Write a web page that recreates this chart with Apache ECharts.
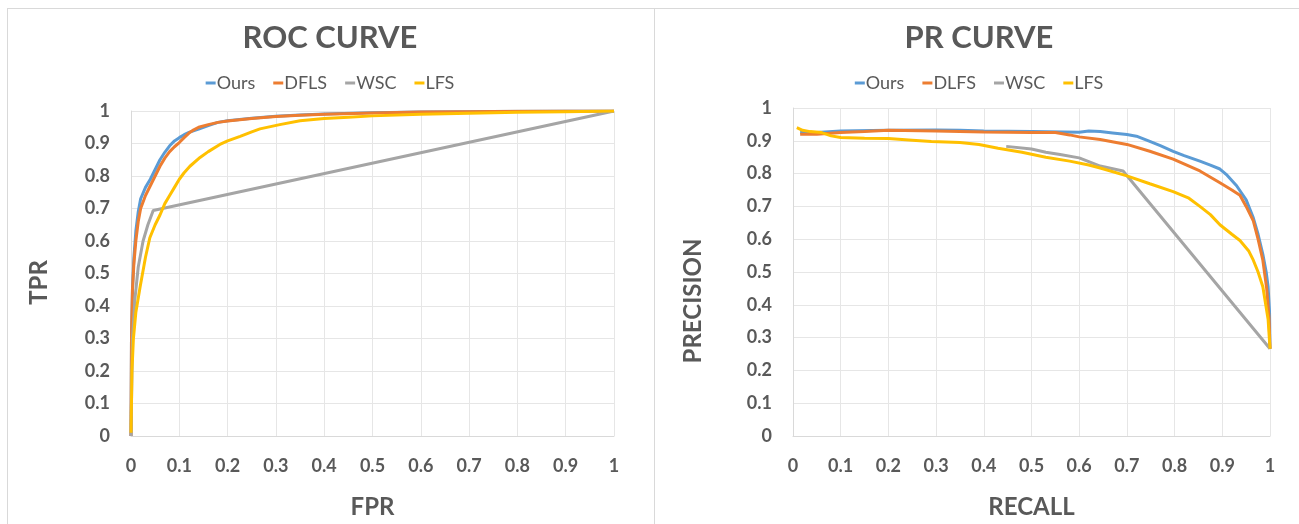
<!DOCTYPE html>
<html>
<head>
<meta charset="utf-8">
<script src="https://cdn.jsdelivr.net/npm/echarts@6/dist/echarts.min.js"></script>
<style>
  html,body{margin:0;padding:0;background:#fff;}
  #wrap{position:relative;width:1299px;height:524px;overflow:hidden;background:#fff;}
  .ln{position:absolute;background:#d9d9d9;}
  .ch{position:absolute;top:0;height:524px;}
</style>
</head>
<body>
<div id="wrap">
  <div class="ln" style="left:7px;top:8px;width:1292px;height:1px;"></div>
  <div class="ln" style="left:7px;top:8px;width:1px;height:516px;"></div>
  <div class="ln" style="left:654px;top:8px;width:1px;height:516px;"></div>
  <div id="roc" class="ch" style="left:0;width:660px;"></div>
  <div id="pr" class="ch" style="left:654px;width:650px;"></div>
</div>
<script>
// ---------- data ----------
const seriesNames = ['Ours', 'DFLS', 'WSC', 'LFS'];
const prSeriesNames = ['Ours', 'DLFS', 'WSC', 'LFS'];
const tickLabels = ['0','0.1','0.2','0.3','0.4','0.5','0.6','0.7','0.8','0.9','1'];

const rocOurs = [[0,0.0],[0.001,0.3],[0.003,0.45],[0.006,0.55],[0.01,0.63],[0.015,0.69],[0.02,0.73],[0.03,0.765],[0.04,0.79],[0.05,0.82],[0.06,0.85],[0.07,0.873],[0.08,0.893],[0.09,0.908],[0.1,0.918],[0.11,0.927],[0.12,0.934],[0.14,0.944],[0.16,0.955],[0.18,0.965],[0.2,0.97],[0.25,0.978],[0.3,0.984],[0.35,0.988],[0.4,0.991],[0.5,0.995],[0.6,0.997],[0.7,0.998],[0.8,0.999],[0.9,1],[1,1]];
const rocDFLS = [[0,0.0],[0.001,0.3],[0.003,0.45],[0.006,0.53],[0.01,0.6],[0.015,0.66],[0.02,0.7],[0.03,0.74],[0.04,0.77],[0.05,0.8],[0.06,0.83],[0.07,0.855],[0.08,0.875],[0.09,0.89],[0.1,0.903],[0.11,0.918],[0.12,0.932],[0.13,0.942],[0.14,0.95],[0.16,0.958],[0.18,0.965],[0.2,0.969],[0.25,0.977],[0.3,0.983],[0.35,0.987],[0.4,0.99],[0.5,0.994],[0.6,0.997],[0.7,0.998],[0.8,0.999],[0.9,1],[1,1]];
const rocWSC = [[0,0.0],[0.003,0.3],[0.008,0.42],[0.015,0.52],[0.025,0.6],[0.035,0.65],[0.046,0.694],[1,1]];
const rocLFS = [[0,0.01],[0.002,0.2],[0.005,0.3],[0.01,0.38],[0.019,0.46],[0.03,0.55],[0.039,0.61],[0.05,0.65],[0.06,0.68],[0.07,0.715],[0.08,0.74],[0.09,0.765],[0.1,0.79],[0.11,0.81],[0.122,0.83],[0.143,0.857],[0.16,0.875],[0.184,0.897],[0.2,0.908],[0.226,0.922],[0.25,0.936],[0.267,0.945],[0.308,0.958],[0.35,0.97],[0.4,0.977],[0.45,0.981],[0.5,0.985],[0.6,0.99],[0.7,0.993],[0.8,0.996],[0.9,0.998],[1,1]];

const prOurs = [[0.015,0.925],[0.05,0.925],[0.1,0.93],[0.2,0.932],[0.3,0.933],[0.35,0.932],[0.4,0.93],[0.5,0.928],[0.6,0.926],[0.62,0.93],[0.644,0.928],[0.67,0.924],[0.7,0.919],[0.72,0.914],[0.748,0.898],[0.77,0.885],[0.797,0.868],[0.82,0.855],[0.853,0.838],[0.875,0.826],[0.895,0.814],[0.91,0.795],[0.93,0.763],[0.95,0.72],[0.965,0.665],[0.975,0.615],[0.985,0.554],[0.992,0.5],[0.996,0.455],[0.999,0.38],[1,0.266]];
const prDLFS = [[0.015,0.92],[0.05,0.92],[0.1,0.925],[0.15,0.928],[0.2,0.932],[0.3,0.93],[0.4,0.927],[0.5,0.925],[0.55,0.925],[0.58,0.918],[0.6,0.912],[0.644,0.904],[0.7,0.889],[0.748,0.868],[0.797,0.844],[0.853,0.808],[0.895,0.772],[0.92,0.75],[0.937,0.734],[0.95,0.7],[0.965,0.656],[0.975,0.6],[0.985,0.536],[0.993,0.45],[0.998,0.36],[1,0.266]];
const prWSC = [[0.447,0.883],[0.5,0.875],[0.53,0.865],[0.56,0.858],[0.6,0.848],[0.644,0.823],[0.692,0.808],[1,0.266]];
const prLFS = [[0.008,0.94],[0.02,0.932],[0.036,0.928],[0.06,0.925],[0.08,0.915],[0.1,0.91],[0.15,0.908],[0.2,0.907],[0.25,0.902],[0.29,0.898],[0.35,0.895],[0.39,0.889],[0.43,0.877],[0.48,0.865],[0.53,0.85],[0.58,0.838],[0.62,0.826],[0.644,0.817],[0.7,0.793],[0.748,0.769],[0.797,0.745],[0.83,0.725],[0.853,0.7],[0.875,0.675],[0.895,0.644],[0.92,0.615],[0.937,0.596],[0.955,0.565],[0.965,0.536],[0.975,0.5],[0.985,0.455],[0.996,0.356],[1,0.266]];

// ---------- styling ----------
const colors = ['#5B9BD5', '#ED7D31', '#A5A5A5', '#FFC000'];
const FONT = 'Lato';
const TXT = '#595959';

function axis(name, gap, isY, namePad) {
  return {
    type: 'value', min: 0, max: 1, interval: 0.1,
    name: name, nameLocation: 'middle', nameGap: gap,
    nameTextStyle: {fontFamily: FONT, fontWeight: 'bold', fontSize: 24, color: TXT, padding: namePad || 0},
    axisLine: {show: true, lineStyle: {color: '#d9d9d9', width: 1}},
    axisTick: {show: false},
    splitLine: {show: true, lineStyle: {color: '#e6e6e6', width: 1}},
    axisLabel: {
      fontFamily: FONT, fontWeight: 'bold', fontSize: 18, color: TXT,
      margin: isY ? 21 : 21,
      formatter: v => tickLabels[Math.round(v * 10)]
    }
  };
}

function makeOption(title, names, datas, grid, xName, yName, yGap, yPad) {
  return {
    animation: false,
    backgroundColor: 'transparent',
    color: colors,
    title: {
      text: title, left: 'center', top: 22, padding: 0,
      textStyle: {fontFamily: FONT, fontWeight: 'bold', fontSize: 31, color: TXT}
    },
    legend: {
      data: names, top: 74, left: 'center', padding: 0,
      icon: 'rect', itemWidth: 10, itemHeight: 3, itemGap: 18,
      textStyle: {fontFamily: FONT, fontSize: 18, color: TXT, padding: [0, 0, 0, -4]}
    },
    grid: grid,
    xAxis: axis(xName, 59, false),
    yAxis: axis(yName, yGap, true, yPad),
    series: names.map((n, i) => ({
      name: n, type: 'line', data: datas[i],
      showSymbol: false, symbol: 'none',
      lineStyle: {width: 3, color: colors[i]},
      itemStyle: {color: colors[i]}
    }))
  };
}

const roc = echarts.init(document.getElementById('roc'), null, {renderer: 'canvas'});
roc.setOption(makeOption('ROC CURVE', seriesNames, [rocOurs, rocDFLS, rocWSC, rocLFS],
  {left: 131, top: 111, width: 483, height: 330}, 'FPR', 'TPR', 80, [0, 18, 0, 0]));

const pr = echarts.init(document.getElementById('pr'), null, {renderer: 'canvas'});
pr.setOption(makeOption('PR CURVE', prSeriesNames, [prOurs, prDLFS, prWSC, prLFS],
  {left: 139, top: 108, width: 477, height: 334}, 'RECALL', 'PRECISION', 88, [0, 58, 0, 0]));
</script>
</body>
</html>
